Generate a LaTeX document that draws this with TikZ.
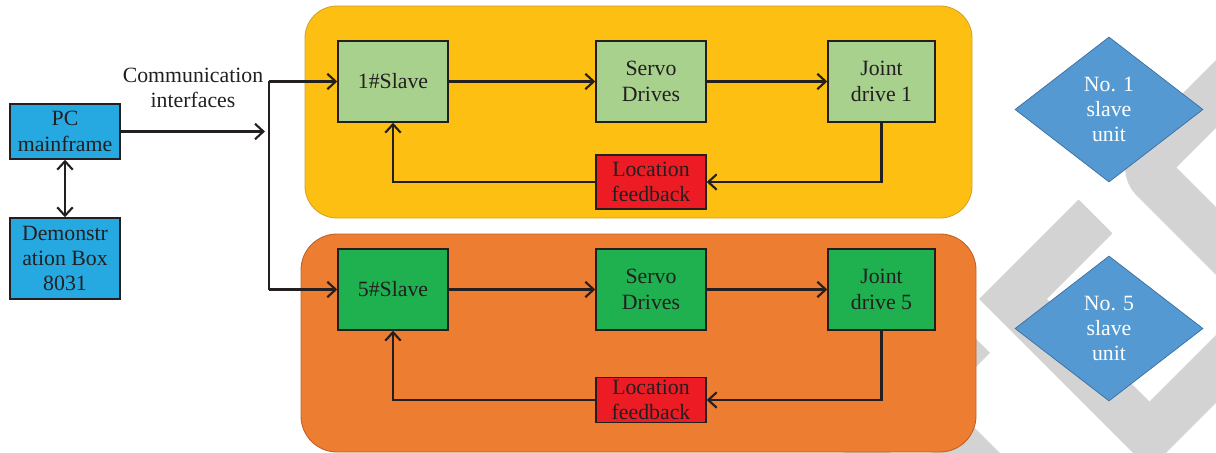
\documentclass[tikz,border=0pt]{standalone}
\usepackage{fontspec}
\setmainfont{Liberation Serif}
\usepackage{tikz}
\usetikzlibrary{
  positioning,
  shapes.geometric,
  arrows.meta
}
\definecolor{inkgrey}{RGB}{35,31,32}
\definecolor{pcblue}{RGB}{38,169,224}
\definecolor{slavelight}{RGB}{168,209,142}
\definecolor{slavedark}{RGB}{31,176,80}
\definecolor{fbred}{RGB}{237,28,36}
\definecolor{grpyellow}{RGB}{252,191,18}
\definecolor{grpyellowedge}{RGB}{214,160,40}
\definecolor{grporange}{RGB}{237,125,49}
\definecolor{grporangeedge}{RGB}{190,95,40}
\definecolor{unitblue}{RGB}{85,153,210}
\definecolor{unitedge}{RGB}{60,110,160}
\definecolor{wmgrey}{RGB}{211,211,211}

\begin{document}
\begin{tikzpicture}[x=0.025cm, y=-0.025cm,
    txt/.style={font=\fontsize{15.5}{18}\selectfont, text=inkgrey, align=center},
    blockbox/.style={txt, draw=inkgrey, line width=1pt, minimum width=2.75cm, minimum height=2.025cm, inner sep=1pt},
    pcbox/.style={blockbox, fill=pcblue},
    slavebox/.style={blockbox, fill=#1},
    fbbox/.style={blockbox, fill=fbred},
    unitbox/.style={txt, diamond, text=white, fill=unitblue, draw=unitedge, line width=0.5pt,
      minimum width=4.7cm, minimum height=3.625cm, inner sep=0pt, aspect=1.3},
    groupbox/.style={line width=0.6pt},
    wire/.style={line width=1.5pt, draw=inkgrey},
    arr/.style={wire, -{Straight Barb[length=6pt,width=11pt]}},
    dblarr/.style={wire, {Straight Barb[length=6pt,width=11pt]}-{Straight Barb[length=6pt,width=11pt]}},
    wm/.style={draw=wmgrey, line width=1.2cm}
  ]
	    \useasboundingbox (0,0) rectangle (1216,453);

	    % grey marks in the background
	    \begin{scope}
	        \clip (0,0) rectangle (1216,453);
	        \draw[wm] (1095.5,216.5) -- (1013,299) -- (1149.5,435.5) -- (1300,285);
	        \draw[wm, rounded corners=0.4cm] (1270,40) -- (1142.5,167.5) -- (1300,325);
	        \draw[wm] (973,336) -- (850,459);
	        \draw[wm] (880,367) -- (1000,487);
	    \end{scope}

	    \draw[groupbox, rounded corners=0.8cm, fill=grpyellow, draw=grpyellowedge] (305,6) rectangle (972,218);
	    \draw[groupbox, rounded corners=0.9cm, fill=grporange, draw=grporangeedge] (301,234) rectangle (976,452);

	    \node[pcbox, minimum height=1.375cm] (pc) at (65,131.5) {PC\\mainframe};
	    \node[pcbox] (demo) at (65,258.5) {Demonstr\\ation Box\\8031};
	    \node[txt] (commlabel) at (193,88) {Communication\\interfaces};

	    \node[slavebox=slavelight] (slaveA) at (393,81.5) {1\#Slave};
	    \node[slavebox=slavelight] (servoA) at (651,81.5) {Servo\\Drives};
	    \node[slavebox=slavelight, minimum width=2.675cm] (jointA) at (881.5,81.5) {Joint\\drive 1};
	    \node[fbbox, minimum height=1.35cm] (fbA) at (651,182) {Location\\feedback};

	    \node[slavebox=slavedark] (slaveB) at (393,289.5) {5\#Slave};
	    \node[slavebox=slavedark] (servoB) at (651,289.5) {Servo\\Drives};
	    \node[slavebox=slavedark, minimum width=2.675cm] (jointB) at (881.5,289.5) {Joint\\drive 5};
	    \node[fbbox, minimum height=1.125cm] (fbB) at (651,400) {Location\\feedback};

	    \node[unitbox] (unitA) at (1109,109.5) {No. 1\\slave\\unit};
	    \node[unitbox] (unitB) at (1109,328.5) {No. 5\\slave\\unit};

	    % bus to both slaves
	    \coordinate (busin) at (265,131.5);
	    \coordinate (busA) at (269,81.5);
	    \coordinate (busB) at (269,289.5);
	    \draw[dblarr] (pc) -- (demo);
	    \draw[arr] (pc) -- (busin);
	    \draw[wire] (busA) -- (busB);
	    \draw[arr] (busA) -- (slaveA);
	    \draw[arr] (busB) -- (slaveB);

	    \draw[arr] (slaveA) -- (servoA);
	    \draw[arr] (servoA) -- (jointA);
	    \draw[arr] (jointA.south) |- (fbA);
	    \draw[arr] (fbA) -| (slaveA);

	    \draw[arr] (slaveB) -- (servoB);
	    \draw[arr] (servoB) -- (jointB);
	    \draw[arr] (jointB.south) |- (fbB);
	    \draw[arr] (fbB) -| (slaveB);

\end{tikzpicture}
\end{document}
